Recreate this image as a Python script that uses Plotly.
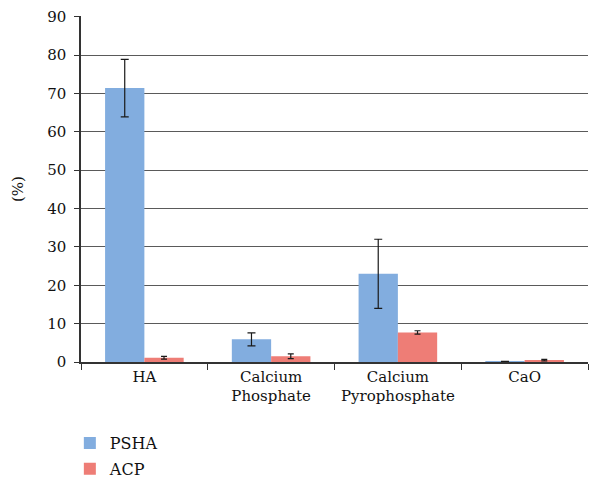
import plotly.graph_objects as go

categories = ["HA", "Calcium<br>Phosphate", "Calcium<br>Pyrophosphate", "CaO"]
psha = [71.4, 5.9, 23.0, 0.1]
psha_err = [7.5, 1.7, 9.0, 0.1]
acp = [1.1, 1.5, 7.7, 0.5]
acp_err = [0.35, 0.6, 0.45, 0.2]

font = "DejaVu Serif"

fig = go.Figure()
fig.add_trace(go.Bar(
    name="PSHA", x=categories, y=psha, legendgroup="a",
    marker=dict(color="#82addf", line=dict(width=0)),
    error_y=dict(type="data", array=psha_err, color="#1a1a1a", thickness=1.2, width=4),
))
fig.add_trace(go.Bar(
    name="ACP", x=categories, y=acp, legendgroup="b",
    marker=dict(color="#ee7d76", line=dict(width=0)),
    error_y=dict(type="data", array=acp_err, color="#1a1a1a", thickness=1.2, width=3),
))

fig.update_layout(
    width=589, height=474,
    margin=dict(l=73, r=9, t=8, b=120, autoexpand=False),
    paper_bgcolor="white", plot_bgcolor="white",
    barmode="group", bargap=0.38, bargroupgap=0,
    font=dict(family=font, size=15, color="#111"),
    showlegend=True,
    legend=dict(orientation="v", x=-0.022, xanchor="left", xref="paper",
                y=0.118, yanchor="top", yref="container",
                font=dict(family=font, size=16, color="#111"),
                itemwidth=30, tracegroupgap=2, bgcolor="rgba(0,0,0,0)"),
    xaxis=dict(showline=True, linecolor="#333", linewidth=1.5, automargin=False,
               ticks="outside", tickson="boundaries", ticklen=6, tickcolor="#333",
               tickfont=dict(family=font, size=15, color="#111"), showgrid=False),
    yaxis=dict(range=[0, 90.2], tickmode="linear", tick0=0, dtick=10,
               showline=True, linecolor="#333", linewidth=1.5,
               automargin=False, ticklabelstandoff=5, ticklabeloverflow="allow",
               ticks="outside", ticklen=5, tickcolor="#333",
               showgrid=True, gridcolor="#5a5a5a", gridwidth=1, zeroline=False,
               tickfont=dict(family=font, size=15, color="#111"),
               title=dict(text="(%)", font=dict(family=font, size=15, color="#111"), standoff=20)),
)

fig.write_html("out.html")
